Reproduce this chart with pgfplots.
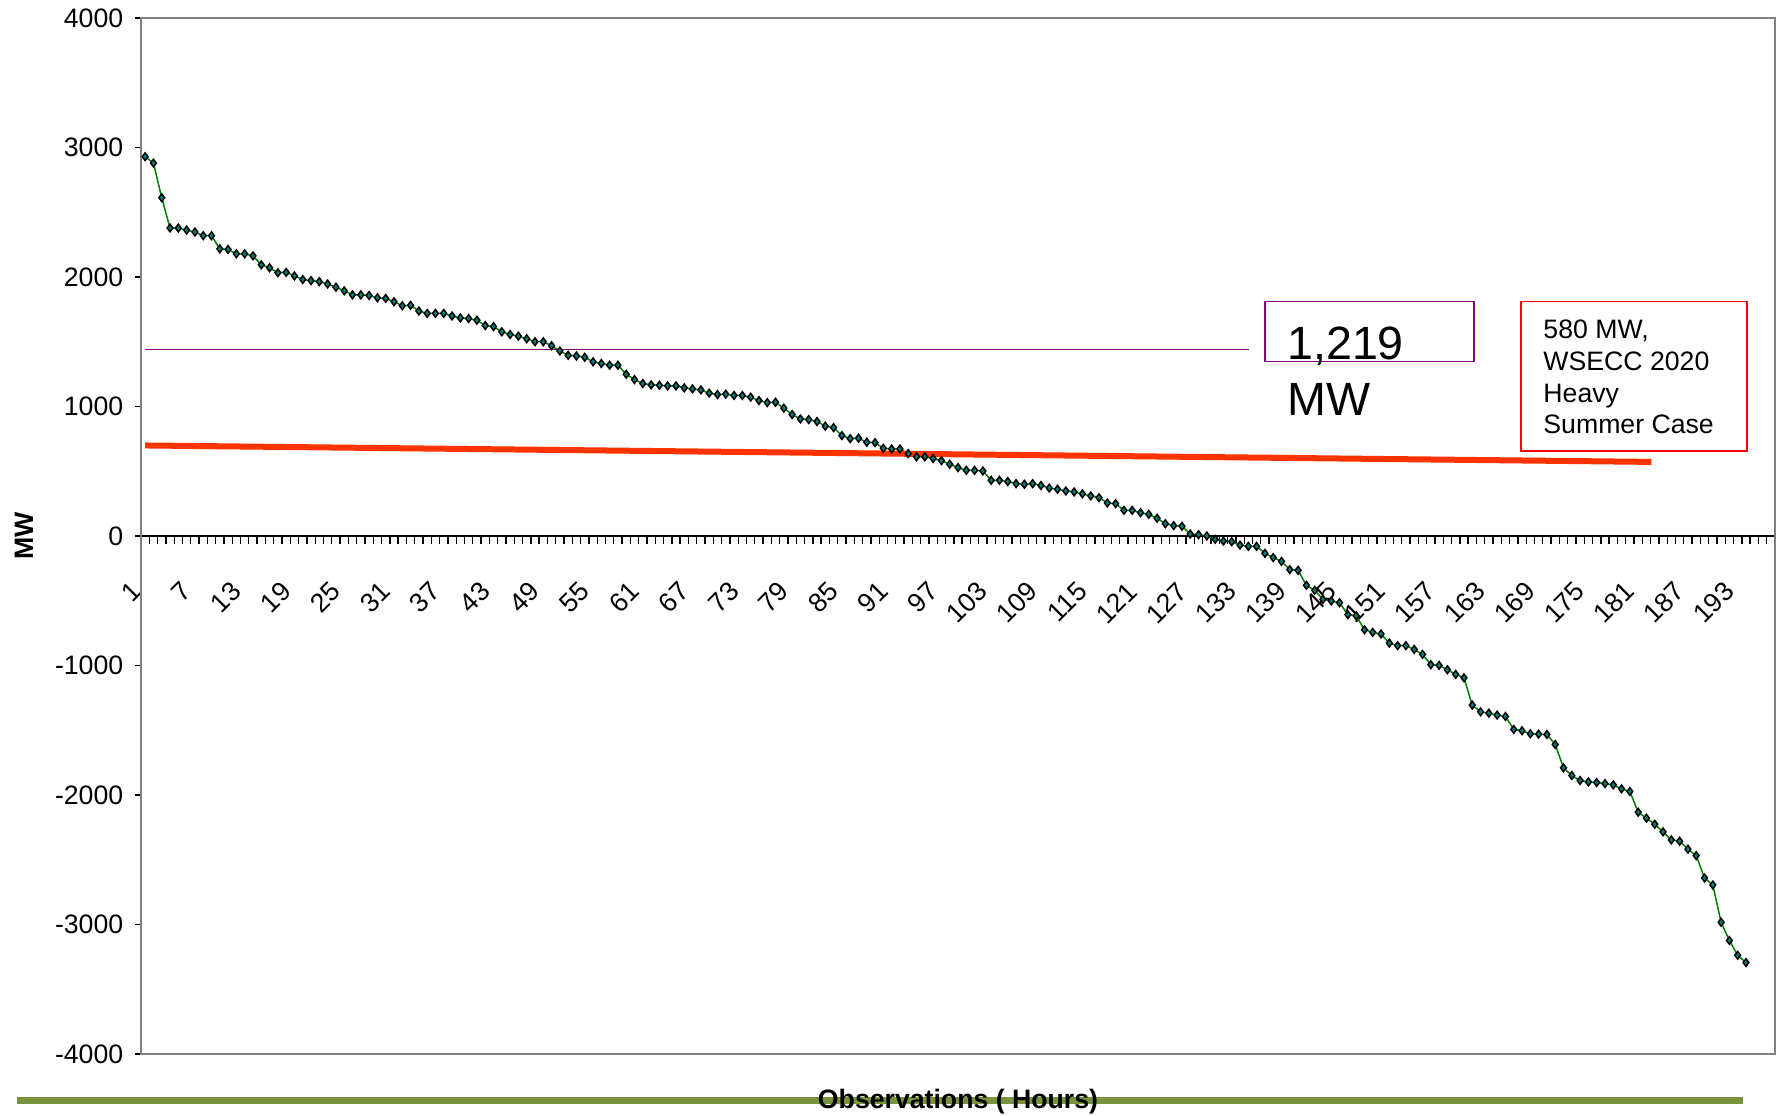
\documentclass[border=0pt]{standalone}
\usepackage{pgfplots}
\pgfplotsset{compat=1.18}
\usepackage{fontspec}
\setmainfont{Liberation Sans}

\definecolor{linegreen}{RGB}{0,128,0}
\definecolor{markteal}{RGB}{0,128,128}
\definecolor{boxpurple}{RGB}{128,0,128}
\definecolor{caseorange}{RGB}{255,51,0}
\definecolor{barolive}{RGB}{119,147,60}

\begin{document}
\begin{tikzpicture}
\begin{axis}[
    name=ax,
    scale only axis,
    width=490.2pt, height=310.8pt,
    xmin=0.5, xmax=197.5,
    ymin=-4000, ymax=4000,
    axis x line=middle,
    axis y line=left,
    axis line style={-, black, line width=0.4pt},
    hide obscured y ticks=false,
    hide obscured x ticks=false,
    clip=false,
    xtick={1,7,...,193},
    xticklabels={1,7,13,19,25,31,37,43,49,55,61,67,73,79,85,91,97,103,109,115,121,127,133,139,145,151,157,163,169,175,181,187,193},
    minor xtick={0.5,1.5,...,197.5},
    ytick={-4000,-3000,...,4000},
    yticklabels={-4000,-3000,-2000,-1000,0,1000,2000,3000,4000},
    tick align=outside,
    major x tick style={draw=none},
    minor tick length=2.4pt,
    major tick length=1.8pt,
    tick style={black, line width=0.4pt},
    ticklabel style={font=\fontsize{8}{9.6}\selectfont},
    xticklabel style={yshift=-11pt, rotate=45, anchor=east},
]
% plot area frame
\draw[gray, line width=0.4pt] (rel axis cs:0,0) rectangle (rel axis cs:1,1);

% hourly flows, sorted
\addplot[linegreen, line width=0.45pt, mark=diamond*, mark size=1.15pt,
    mark options={fill=markteal, draw=black, line width=0.45pt}]
coordinates {
(1,2929) (2,2880) (3,2612) (4,2378) (5,2378) (6,2362) (7,2347) (8,2319) (9,2319) (10,2217)
(11,2212) (12,2179) (13,2179) (14,2163) (15,2094) (16,2071) (17,2033) (18,2036) (19,2008) (20,1980)
(21,1972) (22,1964) (23,1946) (24,1921) (25,1893) (26,1862) (27,1862) (28,1857) (29,1839) (30,1834)
(31,1809) (32,1778) (33,1781) (34,1737) (35,1719) (36,1719) (37,1719) (38,1699) (39,1684) (40,1679)
(41,1666) (42,1625) (43,1617) (44,1577) (45,1556) (46,1543) (47,1523) (48,1500) (49,1500) (50,1469)
(51,1429) (52,1395) (53,1390) (54,1380) (55,1345) (56,1332) (57,1319) (58,1319) (59,1249) (60,1208)
(61,1177) (62,1167) (63,1164) (64,1159) (65,1159) (66,1144) (67,1136) (68,1128) (69,1103) (70,1092)
(71,1095) (72,1085) (73,1085) (74,1072) (75,1046) (76,1030) (77,1033) (78,987) (79,938) (80,904)
(81,899) (82,884) (83,848) (84,837) (85,775) (86,752) (87,755) (88,724) (89,721) (90,677)
(91,672) (92,672) (93,636) (94,611) (95,611) (96,598) (97,582) (98,554) (99,528) (100,507)
(101,507) (102,502) (103,430) (104,430) (105,420) (106,404) (107,399) (108,404) (109,390) (110,370)
(111,361) (112,348) (113,340) (114,325) (115,309) (116,296) (117,255) (118,250) (119,198) (120,198)
(121,180) (122,167) (123,137) (124,95) (125,80) (126,75) (127,15) (128,10) (129,0) (130,-26)
(131,-39) (132,-44) (133,-70) (134,-80) (135,-80) (136,-134) (137,-167) (138,-196) (139,-260) (140,-265)
(141,-381) (142,-420) (143,-489) (144,-502) (145,-515) (146,-608) (147,-616) (148,-724) (149,-744) (150,-757)
(151,-827) (152,-847) (153,-847) (154,-876) (155,-914) (156,-994) (157,-999) (158,-1033) (159,-1069) (160,-1095)
(161,-1306) (162,-1358) (163,-1368) (164,-1383) (165,-1394) (166,-1494) (167,-1504) (168,-1528) (169,-1530) (170,-1533)
(171,-1610) (172,-1790) (173,-1850) (174,-1888) (175,-1899) (176,-1904) (177,-1912) (178,-1922) (179,-1953) (180,-1973)
(181,-2133) (182,-2179) (183,-2226) (184,-2285) (185,-2347) (186,-2357) (187,-2419) (188,-2468) (189,-2641) (190,-2695)
(191,-2983) (192,-3124) (193,-3238) (194,-3294)
};

% 1,219 MW level
\addplot[boxpurple, line width=0.5pt] coordinates {(1,1440) (134.1,1440)};
% WSECC 2020 heavy summer case
\addplot[caseorange, line width=1.8pt] coordinates {(1,699) (182.6,572)};

\draw[boxpurple, line width=0.4pt] (axis cs:136,1347) rectangle (axis cs:161.2,1811);
\node[anchor=base west, inner sep=0, font=\fontsize{14}{17}\selectfont] at (axis cs:138.6,1366) {1,219};
\node[anchor=base west, inner sep=0, font=\fontsize{14}{17}\selectfont] at (axis cs:138.6,927) {MW};

\draw[red, line width=0.5pt] (axis cs:166.9,657) rectangle (axis cs:194.1,1811);
% base anchor of a multi-line node is the last line's baseline
\node[anchor=base west, inner sep=0, align=left, font=\fontsize{8}{9.5}\selectfont] at (axis cs:169.5,790) {580 MW,\\WSECC 2020\\Heavy\\Summer Case};
\end{axis}

\node[rotate=90, font=\bfseries\fontsize{8}{9.6}\selectfont] at ([xshift=-35.1pt]ax.west) {MW};
\draw[barolive, line width=2.1pt] ([xshift=-37.2pt, yshift=-14.1pt]ax.south west) -- ([xshift=480.6pt, yshift=-14.1pt]ax.south west);
\node[font=\bfseries\fontsize{8}{9.6}\selectfont] at ([yshift=-14.4pt]ax.south) {Observations ( Hours)};

\pgfresetboundingbox
\path[use as bounding box] ([xshift=-42.3pt, yshift=-18.6pt]ax.south west) rectangle ([xshift=2.4pt, yshift=5.4pt]ax.north east);
\end{tikzpicture}
\end{document}
